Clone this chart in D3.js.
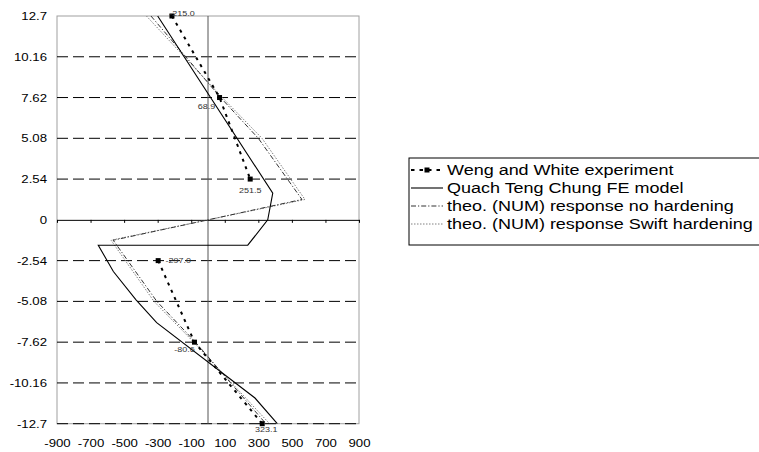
<!DOCTYPE html>
<html>
<head>
<meta charset="utf-8">
<script src="https://cdn.jsdelivr.net/npm/d3@7/dist/d3.min.js"></script>
<style>
body { margin: 0; background: #fff; }
text { font-family: "Liberation Sans", Arial, sans-serif; }
</style>
</head>
<body>
<svg id="chart" width="759" height="452"></svg>
<script>
/* Tick labels of the two axes */
var depthTicks = [12.7, 10.16, 7.62, 5.08, 2.54, 0, -2.54, -5.08, -7.62, -10.16, -12.7];
var stressTicks = [-900, -700, -500, -300, -100, 100, 300, 500, 700, 900];

/* Weng and White experiment (null = no point, line is broken there) */
var expDepth = [12.7, 7.62, 2.54, 0, -2.54, -7.62, -12.7];
var expStress = [-215.0, 68.9, 251.5, null, -297.0, -80.6, 323.1];

/* Quach Teng Chung FE model */
var feDepth = [12.7, 1.66, 0, -1.58, -1.58, -3.22, -4.98, -6.4, -11.1, -12.7];
var feStress = [-300, 386, 356, 237, -654, -564, -429, -306, 280, 413];

/* theoretical responses */
var theoDepth = [12.7, 7.62, 5.08, 1.27, 0, -1.27, -5.08, -7.62, -12.7];
var noHardStress = [-340, 75, 300, 560, 0, -565, -305, -75, 345];
var swiftStress = [-367, 85, 322, 578, 0, -578, -322, -85, 367];

var legendNames = ["Weng and White experiment", "Quach Teng Chung FE model",
    "theo. (NUM) response no hardening", "theo. (NUM) response Swift hardening"];

/* the picture is a bit wider than tall, so text is stretched sideways */
var SX = 1.2;

var svg = d3.select("#chart");
var plotLeft = 57, plotRight = 359, plotTop = 16, plotBottom = 423.7;

var x = d3.scaleLinear().domain([-900, 900]).range([plotLeft, plotRight]);
var y = d3.scaleLinear().domain([-12.7, 12.7]).range([plotBottom, plotTop]);

function stretch(sel) {
    sel.each(function() {
        var t = d3.select(this);
        var tx = +t.attr("x") || 0;
        t.attr("x", tx / SX).attr("transform", "scale(" + SX + ",1)");
    });
}

// frame of the plot area
svg.append("rect")
    .attr("x", plotLeft).attr("y", plotTop)
    .attr("width", plotRight - plotLeft).attr("height", plotBottom - plotTop)
    .attr("fill", "none").attr("stroke", "#a0a0a0").attr("stroke-width", 1);

// dashed grid lines
svg.append("g").selectAll("line")
    .data(depthTicks.filter(function(d) { return d != 0 && d != 12.7; }))
    .enter().append("line")
    .attr("x1", plotLeft).attr("x2", plotRight)
    .attr("y1", function(d) { return y(d); })
    .attr("y2", function(d) { return y(d); })
    .attr("stroke", "#000").attr("stroke-width", 1)
    .attr("stroke-dasharray", "11,5");

// vertical zero line
svg.append("line")
    .attr("x1", x(0)).attr("x2", x(0))
    .attr("y1", plotTop).attr("y2", plotBottom)
    .attr("stroke", "#555").attr("stroke-width", 1);

// horizontal axis through zero, ticks only
var zeroAxis = svg.append("g")
    .attr("transform", "translate(0," + y(0) + ")")
    .call(d3.axisBottom(x).tickValues(stressTicks).tickSize(3).tickSizeOuter(0).tickFormat(""));
zeroAxis.select(".domain").attr("stroke", "#000");

// stress labels at the bottom
var xAxis = svg.append("g")
    .attr("transform", "translate(0," + plotBottom + ")")
    .call(d3.axisBottom(x).tickValues(stressTicks).tickSize(0).tickPadding(15)
        .tickFormat(function(d) { return String(d); }));
xAxis.select(".domain").remove();
xAxis.selectAll("text").attr("font-size", 11).attr("fill", "#000")
    .style("font-family", "'Liberation Sans', Arial, sans-serif").call(stretch);

// depth labels on the left
var yAxis = svg.append("g")
    .attr("transform", "translate(" + plotLeft + ",0)")
    .call(d3.axisLeft(y).tickValues(depthTicks).tickSize(0).tickPadding(10)
        .tickFormat(function(d) { return String(d); }));
yAxis.select(".domain").remove();
yAxis.selectAll("text").attr("font-size", 11).attr("fill", "#000")
    .style("font-family", "'Liberation Sans', Arial, sans-serif").call(stretch);

// the lines
function makeLine(stress) {
    return d3.line()
        .defined(function(d, i) { return stress[i] !== null; })
        .x(function(d, i) { return x(stress[i]); })
        .y(function(d) { return y(d); });
}

svg.append("path").datum(theoDepth)
    .attr("d", makeLine(swiftStress))
    .attr("fill", "none").attr("stroke", "#808080").attr("stroke-width", 1)
    .attr("stroke-dasharray", "1.5,1.5");

svg.append("path").datum(theoDepth)
    .attr("d", makeLine(noHardStress))
    .attr("fill", "none").attr("stroke", "#333").attr("stroke-width", 1)
    .attr("stroke-dasharray", "5,2,1.2,2");

svg.append("path").datum(feDepth)
    .attr("d", makeLine(feStress))
    .attr("fill", "none").attr("stroke", "#000").attr("stroke-width", 1.1);

svg.append("path").datum(expDepth)
    .attr("d", makeLine(expStress))
    .attr("fill", "none").attr("stroke", "#000").attr("stroke-width", 2)
    .attr("stroke-dasharray", "3,5");

// squares of the experiment
var expPoints = expDepth.map(function(d, i) { return {depth: d, stress: expStress[i]}; })
    .filter(function(p) { return p.stress !== null; });

svg.append("g").selectAll("rect")
    .data(expPoints)
    .enter().append("rect")
    .attr("x", function(p) { return x(p.stress) - 2.5; })
    .attr("y", function(p) { return y(p.depth) - 2.5; })
    .attr("width", 5).attr("height", 5)
    .attr("fill", "#000");

// data labels, nudged around their square like in the original
var labelNudge = [[10, -3], [-13, 9], [0, 11], [20, 0], [-10, 7], [4, 6]];
svg.append("g").selectAll("text")
    .data(expPoints)
    .enter().append("text")
    .attr("x", function(p, i) { return x(p.stress) + labelNudge[i][0]; })
    .attr("y", function(p, i) { return y(p.depth) + labelNudge[i][1]; })
    .attr("dy", "0.35em")
    .attr("text-anchor", "middle")
    .attr("font-size", 7.5)
    .attr("fill", "#333")
    .text(function(p) { return p.stress.toFixed(1); })
    .call(stretch);

// legend
var lgX = 409, lgY = 158, rowH = 18;
var legend = svg.append("g");
legend.append("rect")
    .attr("x", lgX).attr("y", lgY)
    .attr("width", 400).attr("height", 87)
    .attr("fill", "#fff").attr("stroke", "#000").attr("stroke-width", 1);

var sampleStyles = [
    {stroke: "#000", width: 2, dash: "3.5,5"},
    {stroke: "#000", width: 1.1, dash: null},
    {stroke: "#333", width: 1, dash: "5,2,1.2,2"},
    {stroke: "#808080", width: 1, dash: "1.5,1.5"}
];

legendNames.forEach(function(name, i) {
    var cy = lgY + 12 + i * rowH;
    var st = sampleStyles[i];
    legend.append("line")
        .attr("x1", lgX + 2).attr("x2", lgX + 34)
        .attr("y1", cy).attr("y2", cy)
        .attr("stroke", st.stroke).attr("stroke-width", st.width)
        .attr("stroke-dasharray", st.dash);
    if (i == 0) {
        legend.append("rect")
            .attr("x", lgX + 15.5).attr("y", cy - 2.5)
            .attr("width", 5).attr("height", 5).attr("fill", "#000");
    }
    legend.append("text")
        .attr("x", lgX + 38).attr("y", cy)
        .attr("dy", "0.35em")
        .attr("font-size", 15)
        .attr("fill", "#000")
        .text(name)
        .call(stretch);
});
</script>
</body>
</html>
